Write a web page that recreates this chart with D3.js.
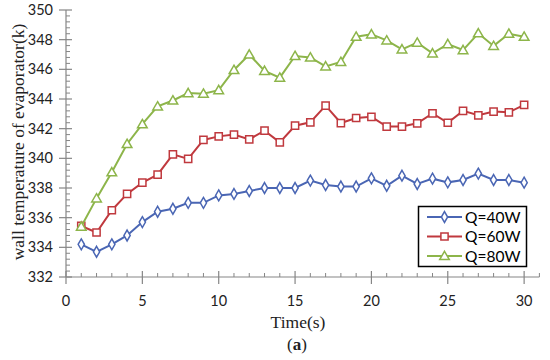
<!DOCTYPE html>
<html><head><meta charset="utf-8">
<script src="https://cdn.jsdelivr.net/npm/d3@7"></script>
<style>body{margin:0;background:#fff}svg{display:block}</style>
</head><body>
<script>
const times = d3.range(1, 31);
const q40 = [334.2,333.7,334.2,334.8,335.7,336.4,336.6,337.0,337.0,337.5,337.6,337.8,338.0,338.0,338.0,338.5,338.2,338.1,338.1,338.65,338.15,338.83,338.27,338.63,338.38,338.54,338.97,338.54,338.54,338.36];
const q60 = [335.44,335.0,336.5,337.6,338.36,338.9,340.27,339.96,341.24,341.48,341.6,341.28,341.87,341.08,342.2,342.43,343.55,342.38,342.72,342.8,342.14,342.14,342.36,343.03,342.4,343.2,342.9,343.15,343.1,343.6];
const q80 = [335.4,337.3,339.06,340.97,342.3,343.5,343.9,344.4,344.36,344.6,345.96,347.0,345.9,345.44,346.9,346.8,346.2,346.5,348.2,348.36,347.95,347.35,347.8,347.08,347.7,347.3,348.43,347.58,348.4,348.2];
const seriesNames = ["Q=40W","Q=60W","Q=80W"];
const xTicks = [0,5,10,15,20,25,30];
const yTicks = [332,334,336,338,340,342,344,346,348,350];

const W = 550, H = 360;
const svg = d3.select("body").append("svg").attr("width", W).attr("height", H);
const x = d3.scaleLinear().domain([0, 31]).range([66, 539.4]);
const y = d3.scaleLinear().domain([332, 350]).range([277, 10]);
const axisColor = "#868686";

// Y axis
const gy = svg.append("g");
gy.append("line").attr("x1", x(0)).attr("x2", x(0)).attr("y1", y(332)).attr("y2", y(350)).attr("stroke", axisColor).attr("stroke-width", 1.2);
const yMinor = d3.range(332, 350.001, 0.4).filter(v => Math.abs(Math.round(v/2)*2 - v) > 0.01);
gy.selectAll(".ymin").data(yMinor).enter().append("line")
  .attr("x1", x(0)).attr("x2", x(0) + 4).attr("y1", d => y(d)).attr("y2", d => y(d)).attr("stroke", axisColor);
gy.selectAll(".ymaj").data(yTicks).enter().append("line")
  .attr("x1", x(0) - 7).attr("x2", x(0) + 6).attr("y1", d => y(d)).attr("y2", d => y(d)).attr("stroke", axisColor).attr("stroke-width", 1.2);
gy.selectAll(".ylab").data(yTicks).enter().append("text")
  .attr("x", 53).attr("y", d => y(d) + 5).attr("text-anchor", "end")
  .attr("font-family", "Lato, 'Open Sans', sans-serif").attr("font-size", 14.5).attr("fill", "#222").text(d => d);

// X axis
const gx = svg.append("g");
gx.append("line").attr("x1", x(0)).attr("x2", x(31)).attr("y1", y(332)).attr("y2", y(332)).attr("stroke", axisColor).attr("stroke-width", 1.2);
const xMinor = d3.range(1, 32).filter(v => v % 5 !== 0);
gx.selectAll(".xmin").data(xMinor).enter().append("line")
  .attr("x1", d => x(d)).attr("x2", d => x(d)).attr("y1", y(332) - 4).attr("y2", y(332)).attr("stroke", axisColor);
gx.selectAll(".xmaj").data(xTicks).enter().append("line")
  .attr("x1", d => x(d)).attr("x2", d => x(d)).attr("y1", y(332) - 6).attr("y2", y(332) + 7).attr("stroke", axisColor).attr("stroke-width", 1.2);
gx.selectAll(".xlab").data(xTicks).enter().append("text")
  .attr("x", d => x(d)).attr("y", 306).attr("text-anchor", "middle")
  .attr("font-family", "Lato, 'Open Sans', sans-serif").attr("font-size", 14.5).attr("fill", "#222").text(d => d);

// Axis titles
svg.append("text").attr("transform", "translate(24,142) rotate(-90)").attr("text-anchor", "middle")
  .attr("font-family", "'Liberation Serif', 'DejaVu Serif', serif").attr("font-size", 17.5).attr("fill", "#222")
  .text("wall temperature of evaporator(k)");
svg.append("text").attr("x", 298).attr("y", 328).attr("text-anchor", "middle")
  .attr("font-family", "'Liberation Serif', serif").attr("font-size", 17.5).attr("fill", "#222").text("Time(s)");
const ta = svg.append("text").attr("x", 297).attr("y", 350).attr("text-anchor", "middle")
  .attr("font-family", "'Liberation Serif', serif").attr("font-size", 17).attr("fill", "#222");
ta.append("tspan").text("(");
ta.append("tspan").attr("font-weight", "bold").text("a");
ta.append("tspan").text(")");

const colors = ["#4a66b4", "#c0393e", "#8db54a"];
const symbols = [d3.symbolDiamond, d3.symbolSquare, d3.symbolTriangle];
const symSizes = [34, 52, 40];
const data = [q40, q60, q80];
const line = d3.line().x((d, i) => x(times[i])).y(d => y(d));

data.forEach((vals, k) => {
  const g = svg.append("g");
  g.append("path").attr("d", line(vals)).attr("fill", "none").attr("stroke", colors[k]).attr("stroke-width", 2);
  g.selectAll("path.m").data(vals).enter().append("path").attr("class", "m")
    .attr("d", d3.symbol().type(symbols[k]).size(symSizes[k]))
    .attr("transform", (d, i) => `translate(${x(times[i])},${y(d) + (k === 2 ? 0.8 : 0)})`)
    .attr("fill", "#fff").attr("stroke", colors[k]).attr("stroke-width", 1.5);
});

// Legend
const lg = svg.append("g");
lg.append("rect").attr("x", 418.5).attr("y", 206.5).attr("width", 108).attr("height", 60)
  .attr("fill", "#fff").attr("stroke", "#000").attr("stroke-width", 1.5);
seriesNames.forEach((name, k) => {
  const yy = 217 + k * 19.5;
  lg.append("line").attr("x1", 427).attr("x2", 462).attr("y1", yy).attr("y2", yy).attr("stroke", colors[k]).attr("stroke-width", 2);
  lg.append("path").attr("d", d3.symbol().type(symbols[k]).size(symSizes[k]))
    .attr("transform", `translate(444.5,${yy + (k === 2 ? 0.8 : 0)})`)
    .attr("fill", "#fff").attr("stroke", colors[k]).attr("stroke-width", 1.5);
  lg.append("text").attr("x", 465).attr("y", yy + 5.5)
    .attr("font-family", "Lato, 'Open Sans', sans-serif").attr("font-size", 15.5).attr("fill", "#000").text(name);
});
</script>
</body></html>
